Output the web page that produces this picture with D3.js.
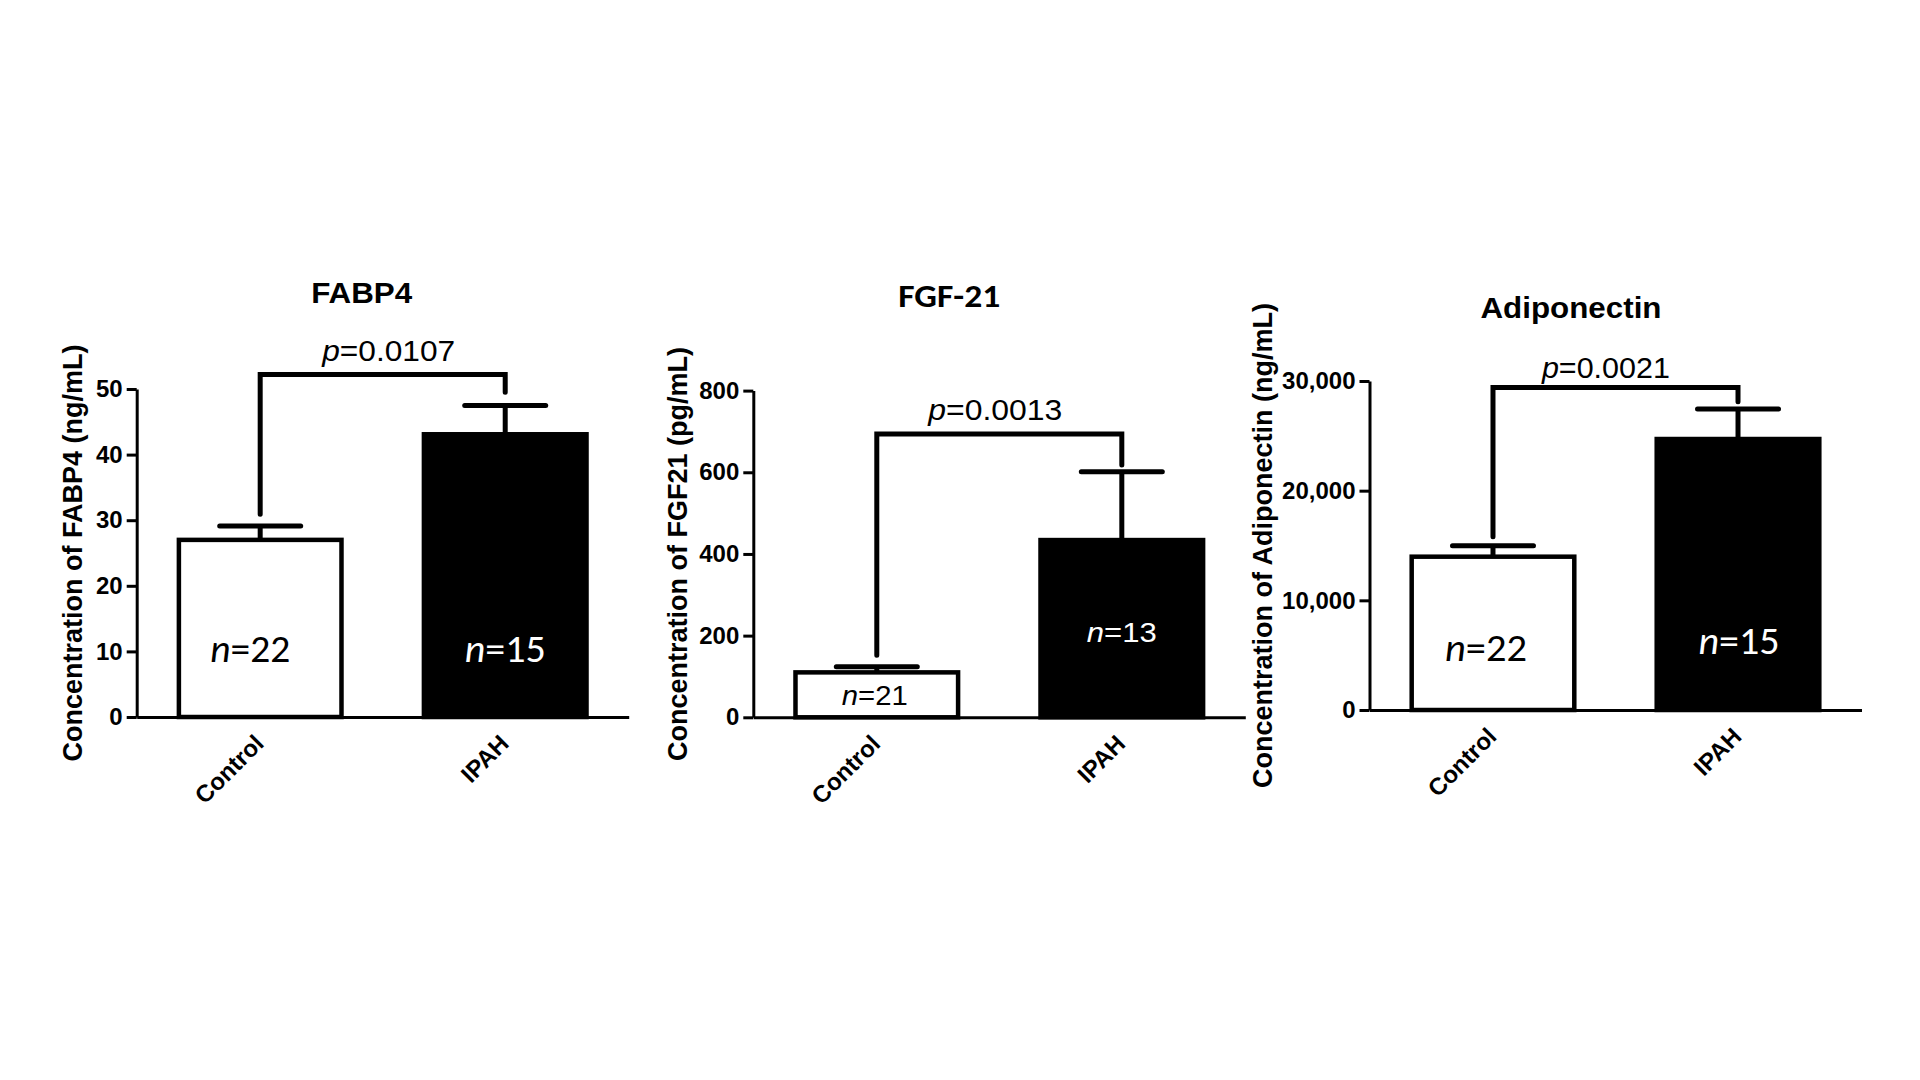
<!DOCTYPE html>
<html>
<head>
<meta charset="utf-8">
<script src="https://cdn.jsdelivr.net/npm/d3@7"></script>
<style>
  html, body { margin: 0; padding: 0; background: #fff; }
  svg { display: block; }
</style>
</head>
<body>
<script>
// ---- data ----
const panelTitles = ['FABP4', 'FGF-21', 'Adiponectin'];
const yLabels = [
	'Concentration of FABP4 (ng/mL)',
	'Concentration of FGF21 (pg/mL)',
	'Concentration of Adiponectin (ng/mL)'
];
const groups = ['Control', 'IPAH'];
const yMax = [50, 800, 30000];
const yTicks = [
	[0, 10, 20, 30, 40, 50],
	[0, 200, 400, 600, 800],
	[0, 10000, 20000, 30000]
];
const means = [[27.0, 43.1], [110, 434], [13980, 24710]];
const sems = [[2.1, 4.4], [14, 167], [1000, 2740]];
const sampleSizes = [[22, 15], [21, 13], [22, 15]];
const pValues = ['0.0107', '0.0013', '0.0021'];
const bracketTops = [52.2, 694, 29400];
const bracketLegEnds = [[30.9, 49.5], [152, 618], [15800, 28100]];

// ---- layout ----
const SANS = "Arial, 'Liberation Sans', sans-serif";
const CALIBRI = "Carlito, Calibri, Lato, sans-serif";

const config = {
	width: 1920,
	height: 1080,
	plotWidth: 492,
	barStroke: 4.5,
	lineStroke: 5,
	axisStroke: 3,
	capHalf: 40.5
};

const layout = [
	{ x: 136.7, y0: 717, h: 328, titleDx: 225, titleY: 302.7, titleFont: SANS, titleSize: 30, titleLen: 101,
		yLabelDx: -55, pDx: 6, pDy: -14, pLen: 133,
		nFont: CALIBRI, nSize: 39, nLen: [80, 81], nDx: [-10, 0], nLift: [55, 55] },
	{ x: 753.3, y0: 717.3, h: 326.7, titleDx: 196, titleY: 306.7, titleFont: CALIBRI, titleSize: 32, titleLen: 102,
		yLabelDx: -66.3, pDx: -4, pDy: -14, pLen: 134,
		nFont: SANS, nSize: 28, nLen: [66, 70], nDx: [-2, 0], nLift: [12.3, 75] },
	{ x: 1369.5, y0: 710, h: 329, titleDx: 201.5, titleY: 318.3, titleFont: SANS, titleSize: 30, titleLen: 181,
		yLabelDx: -97.5, pDx: -9.6, pDy: -10, pLen: 128,
		nFont: CALIBRI, nSize: 39, nLen: [82, 81], nDx: [-7, 1], nLift: [49.3, 56] }
];

const svg = d3.select('body')
	.append('svg')
	.attr('width', config.width)
	.attr('height', config.height);

svg.append('rect')
	.attr('width', config.width)
	.attr('height', config.height)
	.attr('fill', '#fff');

panelTitles.forEach((title, i) => {
	const L = layout[i];

	const y = d3.scaleLinear()
		.domain([0, yMax[i]])
		.range([L.y0, L.y0 - L.h]);

	const x = d3.scaleBand()
		.domain(groups)
		.range([L.x, L.x + config.plotWidth])
		.paddingInner(0.318)
		.paddingOuter(0.163);

	const rows = groups.map((grp, j) => ({
		grp, j,
		mean: means[i][j],
		sem: sems[i][j],
		n: sampleSizes[i][j],
		cx: x(grp) + x.bandwidth() / 2
	}));

	const g = svg.append('g').attr('class', 'panel');

	// bars
	g.selectAll('.bar')
		.data(rows)
		.join('rect')
		.attr('class', 'bar')
		.attr('x', d => x(d.grp) + config.barStroke / 2)
		.attr('width', x.bandwidth() - config.barStroke)
		.attr('y', d => y(d.mean))
		.attr('height', d => y(0) - y(d.mean))
		.attr('fill', d => d.j ? '#000' : '#fff')
		.attr('stroke', '#000')
		.attr('stroke-width', config.barStroke);

	// error bars (upper only)
	g.selectAll('.err-stem')
		.data(rows)
		.join('line')
		.attr('class', 'err-stem')
		.attr('x1', d => d.cx).attr('x2', d => d.cx)
		.attr('y1', d => y(d.mean)).attr('y2', d => y(d.mean + d.sem))
		.attr('stroke', '#000')
		.attr('stroke-width', config.lineStroke);

	g.selectAll('.err-cap')
		.data(rows)
		.join('line')
		.attr('class', 'err-cap')
		.attr('x1', d => d.cx - config.capHalf).attr('x2', d => d.cx + config.capHalf)
		.attr('y1', d => y(d.mean + d.sem)).attr('y2', d => y(d.mean + d.sem))
		.attr('stroke', '#000')
		.attr('stroke-width', config.lineStroke)
		.attr('stroke-linecap', 'round');

	// y axis
	const yAxis = g.append('g')
		.attr('transform', `translate(${L.x},0)`)
		.call(d3.axisLeft(y)
			.tickValues(yTicks[i])
			.tickSize(10)
			.tickSizeOuter(0)
			.tickPadding(4)
			.tickFormat(d3.format(',')))
		.attr('font-size', 24)
		.attr('font-family', SANS)
		.attr('font-weight', 'bold');
	yAxis.select('.domain').attr('stroke-width', config.axisStroke);
	yAxis.selectAll('.tick line').attr('stroke-width', config.axisStroke);
	yAxis.selectAll('.tick text').attr('fill', '#000');

	// x axis
	const xAxis = g.append('g')
		.attr('transform', `translate(0,${L.y0})`)
		.call(d3.axisBottom(x).tickSize(0).tickSizeOuter(0))
		.attr('font-size', 24)
		.attr('font-family', SANS)
		.attr('font-weight', 'bold');
	xAxis.select('.domain').attr('stroke-width', config.axisStroke);
	xAxis.selectAll('.tick text')
		.attr('fill', '#000')
		.attr('text-anchor', 'end')
		.attr('x', 5)
		.attr('y', 28)
		.attr('dy', null)
		.attr('transform', 'rotate(-45,5,28)');

	// significance bracket
	const [c0, c1] = rows.map(d => d.cx);
	const bracket = d3.line()([
		[c0, y(bracketLegEnds[i][0])],
		[c0, y(bracketTops[i])],
		[c1, y(bracketTops[i])],
		[c1, y(bracketLegEnds[i][1])]
	]);
	g.append('path')
		.attr('d', bracket)
		.attr('fill', 'none')
		.attr('stroke', '#000')
		.attr('stroke-width', config.lineStroke)
		.attr('stroke-linecap', 'round');

	const pText = g.append('text')
		.attr('x', (c0 + c1) / 2 + L.pDx)
		.attr('y', y(bracketTops[i]) + L.pDy)
		.attr('text-anchor', 'middle')
		.attr('font-family', SANS)
		.attr('font-size', 29)
		.attr('textLength', L.pLen)
		.attr('lengthAdjust', 'spacingAndGlyphs');
	pText.append('tspan').attr('font-style', 'italic').text('p');
	pText.append('tspan').text('=' + pValues[i]);

	// sample sizes inside bars
	rows.forEach(d => {
		const t = g.append('text')
			.attr('x', d.cx + L.nDx[d.j])
			.attr('y', L.y0 - L.nLift[d.j])
			.attr('text-anchor', 'middle')
			.attr('font-family', L.nFont)
			.attr('font-size', L.nSize)
			.attr('fill', d.j ? '#fff' : '#000')
			.attr('textLength', L.nLen[d.j])
			.attr('lengthAdjust', 'spacingAndGlyphs');
		t.append('tspan').attr('font-style', 'italic').text('n');
		t.append('tspan').text('=' + d.n);
	});

	// title
	g.append('text')
		.attr('x', L.x + L.titleDx)
		.attr('y', L.titleY)
		.attr('text-anchor', 'middle')
		.attr('font-family', L.titleFont)
		.attr('font-weight', 'bold')
		.attr('font-size', L.titleSize)
		.attr('textLength', L.titleLen)
		.attr('lengthAdjust', 'spacingAndGlyphs')
		.text(title);

	// y axis label
	g.append('text')
		.attr('transform', `translate(${L.x + L.yLabelDx},${(y(0) + y(yMax[i])) / 2}) rotate(-90)`)
		.attr('text-anchor', 'middle')
		.attr('font-family', SANS)
		.attr('font-weight', 'bold')
		.attr('font-size', 27)
		.text(yLabels[i]);
});
</script>
</body>
</html>
